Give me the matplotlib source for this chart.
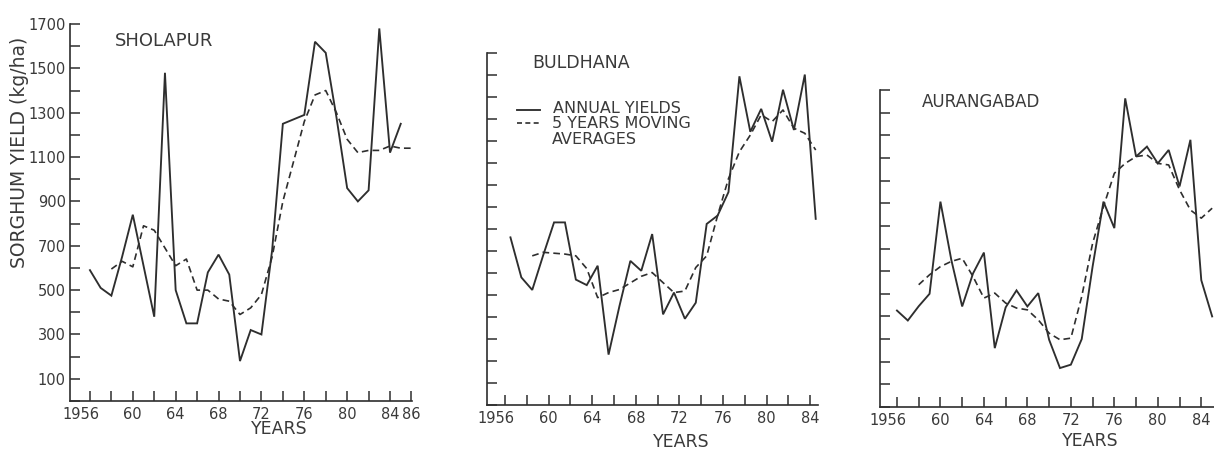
"""
Sorghum yield (kg/ha), annual yields and 5-year moving averages,
for three districts: Sholapur, Buldhana, Aurangabad.
"""

import matplotlib
matplotlib.use("Agg")
import matplotlib.pyplot as plt
import matplotlib.transforms as mtransforms
from matplotlib.lines import Line2D


W, H = 1214, 451

LINE_C = "#2e2e2e"
TEXT_C = "#3a3a3a"

# --- Sholapur ---
SHO_YEARS = list(range(1956, 1986))
SHO_ANNUAL = [590, 510, 475, 650, 840, 610, 380, 1480, 500, 350,
              350, 580, 660, 570, 180, 320, 300, 680, 1250, 1270,
              1290, 1620, 1570, 1280, 960, 900, 950, 1680, 1120, 1250]
SHO_MA_YEARS = list(range(1958, 1987))
SHO_MA = [595, 630, 605, 790, 770, 690, 610, 640, 500, 500,
          460, 450, 390, 420, 480, 650, 900, 1080, 1260, 1380,
          1400, 1300, 1180, 1120, 1130, 1130, 1150, 1140, 1140]

# --- Buldhana (agricultural years, plotted mid-year) ---
BUL_YEARS = [y + 0.5 for y in range(1956, 1985)]
BUL_ANNUAL = [762, 580, 523, 680, 830, 830, 570, 545, 633, 229,
              450, 655, 610, 777, 412, 511, 392, 465, 823, 861,
              968, 1494, 1242, 1346, 1197, 1433, 1250, 1502, 846]
BUL_MA_YEARS = [y + 0.5 for y in range(1958, 1985)]
BUL_MA = [678, 694, 690, 686, 678, 620, 488, 511, 525, 555,
          585, 602, 556, 511, 518, 625, 678, 861, 1029, 1151,
          1227, 1319, 1288, 1341, 1258, 1235, 1159]

# --- Aurangabad ---
AUR_YEARS = list(range(1956, 1986))
AUR_ANNUAL = [426, 382, 445, 500, 907, 650, 444, 590, 682, 260,
              440, 515, 444, 503, 297, 172, 187, 300, 620, 907,
              790, 1363, 1106, 1150, 1076, 1135, 974, 1180, 560, 400]
AUR_MA_YEARS = list(range(1958, 1986))
AUR_MA = [540, 584, 620, 643, 657, 576, 481, 503, 459, 437,
          429, 385, 326, 297, 304, 488, 723, 885, 1032, 1076,
          1106, 1113, 1076, 1069, 959, 870, 834, 878]

SHO_XTICKS = list(range(1956, 1987, 2))
SHO_XLABELS = ["1956", "", "60", "", "64", "", "68", "", "72", "",
               "76", "", "80", "", "84", "86"]
XTICKS = list(range(1956, 1985, 2))
XLABELS = ["1956", "", "60", "", "64", "", "68", "", "72", "",
           "76", "", "80", "", "84"]
SHO_YTICKS = list(range(0, 1701, 100))
SHO_YLABELS = [str(v) if v % 200 == 100 else "" for v in SHO_YTICKS]


def px_axes(fig, x0, x1, y_top, y_bot):
    return fig.add_axes([x0 / W, 1 - y_bot / H, (x1 - x0) / W, (y_bot - y_top) / H])


def style_axes(ax, xticks, xlabels, ymax):
    for side in ("top", "right"):
        ax.spines[side].set_visible(False)
    for side in ("left", "bottom"):
        ax.spines[side].set_color(LINE_C)
        ax.spines[side].set_linewidth(1.2)
    ax.set_ylim(0, ymax)
    ax.set_yticks(list(range(0, ymax + 1, 100)))
    ax.set_xticks(xticks)
    ax.set_xticklabels(xlabels, fontsize=10.5, color=TEXT_C)
    ax.tick_params(axis="both", direction="in", length=7, width=1.1,
                   color=LINE_C)
    ax.tick_params(axis="x", pad=4.5)
    ax.tick_params(axis="y", pad=3)
    # "1956" hangs left so that "56" sits under its tick
    first = ax.get_xticklabels()[0]
    first.set_transform(first.get_transform() + mtransforms.ScaledTranslation(
        -9 / 100, 0, ax.figure.dpi_scale_trans))


def draw_series(ax, xs, ys, mxs, mys):
    ax.plot(xs, ys, color=LINE_C, linewidth=1.35, solid_joinstyle="miter")
    ax.plot(mxs, mys, color=LINE_C, linewidth=1.2, dashes=(4, 2.5))


fig = plt.figure(figsize=(W / 100, H / 100), dpi=100)
fig.patch.set_facecolor("white")

# panel 1 - Sholapur
ax1 = px_axes(fig, 70, 412, 24, 401)
draw_series(ax1, SHO_YEARS, SHO_ANNUAL, SHO_MA_YEARS, SHO_MA)
ax1.set_xlim(1954.14, 1986.05)
style_axes(ax1, SHO_XTICKS, SHO_XLABELS, 1700)
ax1.set_yticklabels(SHO_YLABELS, fontsize=10.5, color=TEXT_C)

# panel 2 - Buldhana
ax2 = px_axes(fig, 487, 818, 53, 405)
draw_series(ax2, BUL_YEARS, BUL_ANNUAL, BUL_MA_YEARS, BUL_MA)
ax2.set_xlim(1954.35, 1984.71)
style_axes(ax2, XTICKS, XLABELS, 1600)
ax2.set_yticklabels([])

# panel 3 - Aurangabad
ax3 = px_axes(fig, 880, 1214, 90, 407)
draw_series(ax3, AUR_YEARS, AUR_ANNUAL, AUR_MA_YEARS, AUR_MA)
ax3.set_xlim(1954.44, 1985.17)
style_axes(ax3, XTICKS, XLABELS, 1400)
ax3.set_yticklabels([])


def ftext(x, y, s, **kw):
    kw.setdefault("color", TEXT_C)
    return fig.text(x / W, 1 - y / H, s, **kw)


ftext(20, 152, "SORGHUM YIELD (kg/ha)", rotation=90, ha="center",
      va="center", fontsize=13.5)

ftext(115, 41, "SHOLAPUR", ha="left", va="center", fontsize=13)
ftext(532, 63, "BULDHANA", ha="left", va="center", fontsize=12.5)
ftext(922, 102, "AURANGABAD", ha="left", va="center", fontsize=12)

ftext(279, 429, "YEARS", ha="center", va="center", fontsize=12.5)
ftext(681, 442, "YEARS", ha="center", va="center", fontsize=12.5)
ftext(1090, 441, "YEARS", ha="center", va="center", fontsize=12.5)

# legend (inside Buldhana panel)
fig.add_artist(Line2D([517 / W, 540 / W], [1 - 110 / H, 1 - 110 / H],
                      color=LINE_C, linewidth=1.35))
fig.add_artist(Line2D([517 / W, 540 / W], [1 - 123 / H, 1 - 123 / H],
                      color=LINE_C, linewidth=1.2, dashes=(3, 2)))
ftext(553, 108.5, "ANNUAL YIELDS", ha="left", va="center", fontsize=11.5)
ftext(552, 115.5, "5 YEARS MOVING\nAVERAGES", ha="left", va="top",
      fontsize=11.5, linespacing=1.1)

fig.savefig("out.png", dpi=100)
